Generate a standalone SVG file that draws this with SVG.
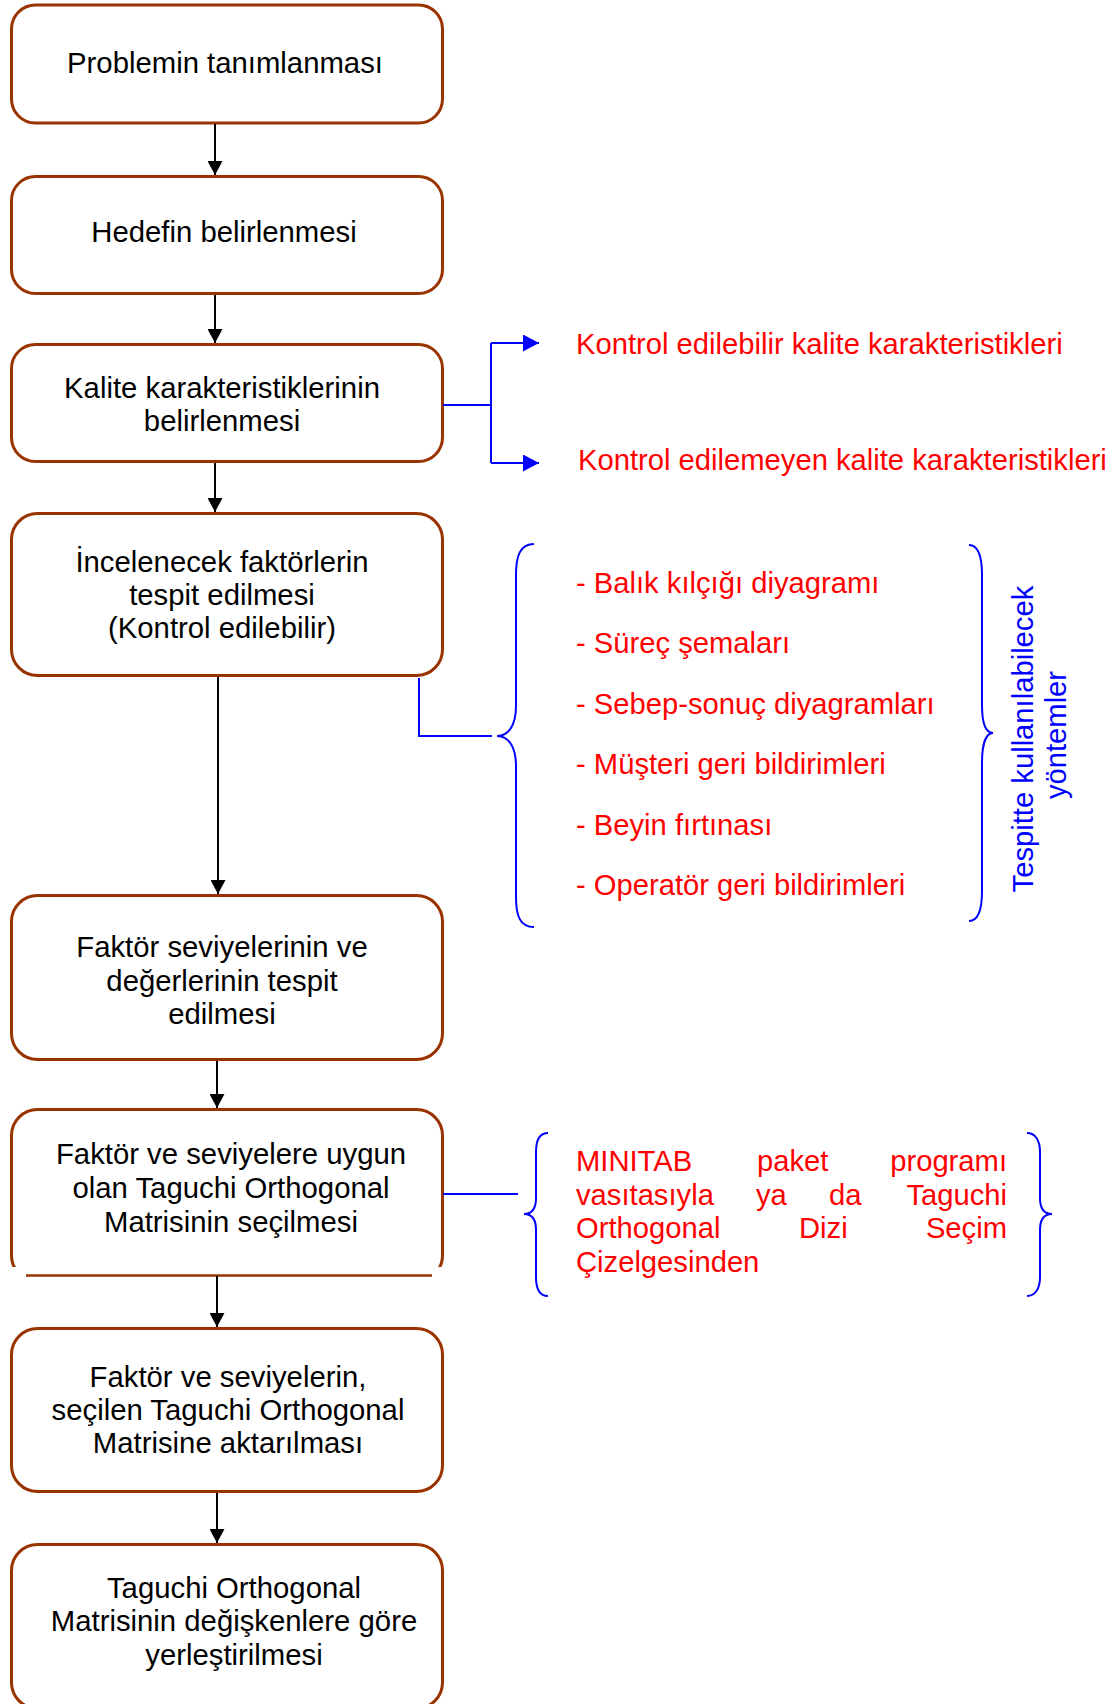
<svg xmlns="http://www.w3.org/2000/svg" width="1115" height="1704" viewBox="0 0 1115 1704">
  <style>
    .box { fill: #ffffff; stroke: #993300; stroke-width: 3; }
    .lbl { font-family: "Liberation Sans", Arial, sans-serif; font-size: 29.3px; fill: #000000; text-anchor: middle; }
    .red { font-family: "Liberation Sans", Arial, sans-serif; font-size: 29.2px; fill: #ff0000; }
    .blue-txt { font-family: "Liberation Sans", Arial, sans-serif; font-size: 29.2px; fill: #0000ff; text-anchor: middle; }
    .flow { fill: none; stroke: #000000; stroke-width: 2; }
    .link { fill: none; stroke: #0000ff; stroke-width: 2; }
  </style>
  <defs>
    <marker id="arrow-black" markerUnits="userSpaceOnUse" markerWidth="15" markerHeight="15" refX="14" refY="7.5" orient="auto">
      <path d="M0,0 L14,7.5 L0,15 Z" fill="#000000"/>
    </marker>
    <marker id="arrow-blue" markerUnits="userSpaceOnUse" markerWidth="17" markerHeight="17" refX="16" refY="8.5" orient="auto">
      <path d="M0,0 L16,8.5 L0,17 Z" fill="#0000ff"/>
    </marker>
  </defs>
  <rect width="1115" height="1704" fill="#ffffff"/>

  <!-- process steps -->
  <g id="step1">
    <rect class="box" x="11.5" y="5" width="431" height="118" rx="24"/>
    <text class="lbl" x="225" y="73">Problemin tanımlanması</text>
  </g>
  <g id="step2">
    <rect class="box" x="11.5" y="176.5" width="431" height="117" rx="24"/>
    <text class="lbl" x="224" y="242">Hedefin belirlenmesi</text>
  </g>
  <g id="step3">
    <rect class="box" x="11.5" y="344.5" width="431" height="117" rx="24"/>
    <text class="lbl" x="222" y="398">Kalite karakteristiklerinin</text>
    <text class="lbl" x="222" y="431">belirlenmesi</text>
  </g>
  <g id="step4">
    <rect class="box" x="11.5" y="513.5" width="431" height="162" rx="26"/>
    <text class="lbl" x="222" y="572">İncelenecek faktörlerin</text>
    <text class="lbl" x="222" y="605">tespit edilmesi</text>
    <text class="lbl" x="222" y="638">(Kontrol edilebilir)</text>
  </g>
  <g id="step5">
    <rect class="box" x="11.5" y="895.5" width="431" height="164" rx="26"/>
    <text class="lbl" x="222" y="957">Faktör seviyelerinin ve</text>
    <text class="lbl" x="222" y="991">değerlerinin tespit</text>
    <text class="lbl" x="222" y="1024">edilmesi</text>
  </g>
  <g id="step6">
    <rect class="box" x="11.5" y="1109.5" width="431" height="172" rx="26"/>
    <!-- lower edge is trimmed: cover the rounded corners and redraw a flat base -->
    <rect x="0" y="1267" width="452" height="30" fill="#ffffff"/>
    <line x1="26" y1="1275.5" x2="432" y2="1275.5" stroke="#993300" stroke-width="2.5"/>
    <text class="lbl" x="231" y="1164">Faktör ve seviyelere uygun</text>
    <text class="lbl" x="231" y="1198">olan Taguchi Orthogonal</text>
    <text class="lbl" x="231" y="1232">Matrisinin seçilmesi</text>
  </g>
  <g id="step7">
    <rect class="box" x="11.5" y="1328.5" width="431" height="163" rx="26"/>
    <text class="lbl" x="228" y="1387">Faktör ve seviyelerin,</text>
    <text class="lbl" x="228" y="1420">seçilen Taguchi Orthogonal</text>
    <text class="lbl" x="228" y="1453">Matrisine aktarılması</text>
  </g>
  <g id="step8">
    <rect class="box" x="11.5" y="1544.5" width="431" height="164" rx="26"/>
    <text class="lbl" x="234" y="1598">Taguchi Orthogonal</text>
    <text class="lbl" x="234" y="1631">Matrisinin değişkenlere göre</text>
    <text class="lbl" x="234" y="1665">yerleştirilmesi</text>
  </g>

  <!-- quality characteristics -->
  <g id="characteristics">
    <text class="red" x="576" y="354">Kontrol edilebilir kalite karakteristikleri</text>
    <text class="red" x="578" y="470">Kontrol edilemeyen kalite karakteristikleri</text>
  </g>

  <!-- methods list -->
  <g id="methods">
    <text class="red" x="576" y="593">- Balık kılçığı diyagramı</text>
    <text class="red" x="576" y="653">- Süreç şemaları</text>
    <text class="red" x="576" y="714">- Sebep-sonuç diyagramları</text>
    <text class="red" x="576" y="774">- Müşteri geri bildirimleri</text>
    <text class="red" x="576" y="835">- Beyin fırtınası</text>
    <text class="red" x="576" y="895">- Operatör geri bildirimleri</text>
  </g>
  <g id="methods-caption">
    <text class="blue-txt" transform="translate(1033,735) rotate(-90)">
      <tspan x="0" y="0">Tespitte kullanılabilecek</tspan>
      <tspan x="0" y="33">yöntemler</tspan>
    </text>
  </g>

  <!-- array selection note (justified) -->
  <g id="array-note">
    <text class="red" x="576" y="1171">MINITAB</text>
    <text class="red" x="757" y="1171">paket</text>
    <text class="red" x="1007" y="1171" text-anchor="end">programı</text>
    <text class="red" x="576" y="1205">vasıtasıyla</text>
    <text class="red" x="756" y="1205">ya</text>
    <text class="red" x="829" y="1205">da</text>
    <text class="red" x="1007" y="1205" text-anchor="end">Taguchi</text>
    <text class="red" x="576" y="1238">Orthogonal</text>
    <text class="red" x="799" y="1238">Dizi</text>
    <text class="red" x="1007" y="1238" text-anchor="end">Seçim</text>
    <text class="red" x="576" y="1272">Çizelgesinden</text>
  </g>

  <!-- connectors -->
  <g id="connectors">
    <line class="flow" x1="215" y1="124" x2="215" y2="175" marker-end="url(#arrow-black)"/>
    <line class="flow" x1="215" y1="295" x2="215" y2="343" marker-end="url(#arrow-black)"/>
    <line class="flow" x1="215" y1="463" x2="215" y2="512" marker-end="url(#arrow-black)"/>
    <line class="flow" x1="218" y1="677" x2="218" y2="894" marker-end="url(#arrow-black)"/>
    <line class="flow" x1="217" y1="1061" x2="217" y2="1108" marker-end="url(#arrow-black)"/>
    <line class="flow" x1="217" y1="1276" x2="217" y2="1327" marker-end="url(#arrow-black)"/>
    <line class="flow" x1="217" y1="1493" x2="217" y2="1543" marker-end="url(#arrow-black)"/>

    <!-- split to the two characteristic types -->
    <path class="link" d="M443,405 H491 M491,343 V463"/>
    <path class="link" d="M491,343 H539" marker-end="url(#arrow-blue)"/>
    <path class="link" d="M491,463 H539" marker-end="url(#arrow-blue)"/>

    <!-- factor step to methods brace -->
    <path class="link" d="M419,678 V736 H492"/>
    <path class="link" d="M534,544 C520,544 516,556 516,575 L516,706 C516,726 508,736 497,736 C508,736 516,746 516,766 L516,897 C516,916 520,927 534,927"/>
    <path class="link" d="M969,545 C978,545 982,556 982,575 L982,705 C982,724 986,733 993,733 C986,733 982,744 982,763 L982,891 C982,910 978,921 969,921"/>

    <!-- array step to note brace -->
    <path class="link" d="M443,1194 H518"/>
    <path class="link" d="M548,1133 C540,1133 536,1140 536,1152 L536,1198 C536,1208 532,1214 524,1214 C532,1214 536,1220 536,1230 L536,1277 C536,1289 540,1296 548,1296"/>
    <path class="link" d="M1027,1133 C1035,1133 1040,1140 1040,1152 L1040,1198 C1040,1208 1044,1214 1052,1214 C1044,1214 1040,1220 1040,1230 L1040,1277 C1040,1289 1035,1296 1027,1296"/>
  </g>
</svg>
